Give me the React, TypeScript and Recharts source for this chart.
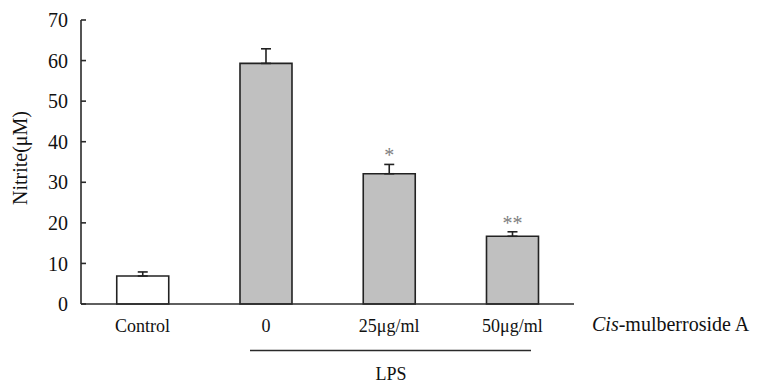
import React from 'react';
import { BarChart, Bar, XAxis, YAxis, ErrorBar, Cell, LabelList } from 'recharts';

// groups on the x axis
const groups = ['Control', '0', '25μg/ml', '50μg/ml'];
// nitrite (μM), mean values
const nitrite = [6.9, 59.3, 32.1, 16.7];
// upper error (SD) for each bar
const errors = [1.0, 3.6, 2.3, 1.1];
// significance marks above bars
const marks = ['', '', '*', '**'];
const fills = ['#ffffff', '#c0c0c0', '#c0c0c0', '#c0c0c0'];
const yTicks = [0, 10, 20, 30, 40, 50, 60, 70];

const data = groups.map((g, i) => ({
  group: g,
  value: nitrite[i],
  err: [0, errors[i]],
  mark: marks[i],
}));

const FONT = '"Liberation Serif", "Times New Roman", serif';

const StarLabel = (props: any) => {
  const { x, y, width, height, index } = props;
  const mark = marks[index];
  if (!mark) return null;
  // pixels per unit from the bar itself
  const ppu = height / nitrite[index];
  const top = y - errors[index] * ppu;
  return (
    <text
      x={x + width / 2}
      y={top - 2}
      textAnchor="middle"
      fontFamily={FONT}
      fontSize={20}
      fill="#808080"
    >
      {mark}
    </text>
  );
};

export default function App() {
  return (
    <div style={{ position: 'absolute', left: 0, top: 0, background: '#fff' }}>
      <BarChart
        width={761}
        height={384}
        data={data}
        margin={{ top: 20, right: 187, bottom: 50, left: 0 }}
        barCategoryGap="29%"
      >
        <XAxis
          dataKey="group"
          axisLine={{ stroke: '#2a2a2a', strokeWidth: 1.6 }}
          tickLine={false}
          tickSize={0}
          tickMargin={15}
          height={30}
          interval={0}
          tick={{ fontSize: 18, fill: '#111', fontFamily: FONT }}
        />
        <YAxis
          domain={[0, 70]}
          ticks={yTicks}
          width={81}
          axisLine={{ stroke: '#2a2a2a', strokeWidth: 1.6 }}
          tickLine={{ stroke: '#2a2a2a', strokeWidth: 1.6 }}
          tickSize={-5}
          tickMargin={18}
          tick={{ fontSize: 20, fill: '#111', fontFamily: FONT }}
        />
        <Bar dataKey="value" stroke="#222" strokeWidth={1.6} isAnimationActive={false}>
          {data.map((d, i) => (
            <Cell key={d.group} fill={fills[i]} />
          ))}
          <ErrorBar dataKey="err" width={5} stroke="#222" strokeWidth={1.6} direction="y" />
          <LabelList dataKey="mark" content={StarLabel} />
        </Bar>
        <text
          x={20}
          y={158}
          transform="rotate(-90 20 158)"
          textAnchor="middle"
          dominantBaseline="central"
          fontFamily={FONT}
          fontSize={20}
          fill="#111"
        >
          Nitrite(μM)
        </text>
        <text x={592} y={331} fontFamily={FONT} fontSize={20} fill="#111">
          <tspan fontStyle="italic">Cis</tspan>-mulberroside A
        </text>
        <line x1={250} y1={350.5} x2={531} y2={350.5} stroke="#2a2a2a" strokeWidth={1.6} />
        <text x={391} y={380} textAnchor="middle" fontFamily={FONT} fontSize={18} fill="#111">
          LPS
        </text>
      </BarChart>
    </div>
  );
}
